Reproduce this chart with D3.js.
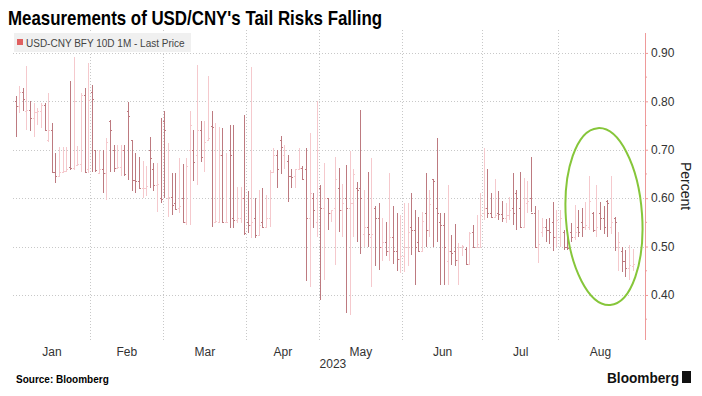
<!DOCTYPE html>
<html>
<head>
<meta charset="utf-8">
<script src="https://cdn.jsdelivr.net/npm/d3@7"></script>
<style>
  body { margin: 0; background: #fff; }
  text { font-family: "Liberation Sans", Arial, sans-serif; }
</style>
</head>
<body>
<div id="chart"></div>
<script>
// daily bars USD-CNY BFY 10D 1M, Jan 3 - Aug 29 2023 (weekdays)
const openJan = [.80,.79,.82,.78,.783,.766,.777,.78,.793,.72,.74,.655,.645,.655,.657,.665,.662,.668,.67,.814,.66];
const highJan = [.81,.831,.828,.872,.80,.797,.786,.797,.797,.817,.755,.693,.706,.706,.706,.841,.892,.707,.817,.828,.879];
const lowJan  = [.726,.776,.78,.741,.738,.726,.752,.745,.741,.717,.652,.631,.645,.655,.657,.659,.659,.667,.655,.655,.652];
const closeJan = [.79,.82,.805,.783,.766,.777,.78,.793,.741,.74,.655,.645,.655,.657,.66,.662,.80,.67,.814,.655,.803];

const openFeb = [.82,.70,.652,.66,.652,.76,.70,.662,.665,.70,.78,.72,.638,.635,.62,.62,.70,.66,.628,.60];
const highFeb = [.834,.70,.70,.70,.724,.762,.71,.71,.71,.71,.798,.72,.693,.686,.676,.666,.726,.672,.672,.766];
const lowFeb  = [.655,.655,.652,.61,.597,.655,.655,.662,.645,.645,.638,.614,.61,.62,.60,.605,.62,.615,.572,.59];
const closeFeb = [.805,.659,.66,.652,.717,.741,.662,.665,.70,.65,.77,.638,.635,.62,.62,.625,.683,.628,.63,.598];

const openMar = [.76,.60,.602,.59,.58,.60,.55,.70,.70,.69,.74,.70,.72,.75,.55,.55,.69,.55,.70,.56,.555,.56,.60];
const highMar = [.779,.714,.652,.652,.683,.671,.683,.779,.741,.876,.759,.759,.852,.779,.756,.748,.745,.693,.752,.752,.624,.624,.772];
const lowMar  = [.60,.562,.565,.575,.57,.55,.545,.545,.636,.628,.675,.655,.72,.541,.55,.55,.548,.55,.538,.538,.548,.548,.524];
const closeMar = [.741,.602,.586,.578,.583,.55,.667,.752,.675,.741,.684,.717,.725,.748,.552,.69,.55,.551,.69,.555,.56,.60,.528];

const openApr = [.55,.545,.56,.524,.55,.541,.56,.655,.69,.72,.69,.676,.645,.645,.66,.663,.66,.56,.60,.55];
const highApr = [.614,.87,.60,.617,.62,.607,.659,.703,.70,.728,.71,.69,.66,.66,.703,.666,.703,.734,.61,.80];
const lowApr  = [.528,.517,.517,.524,.538,.541,.541,.655,.621,.65,.66,.593,.62,.62,.66,.64,.428,.417,.538,.52];
const closeApr = [.545,.55,.524,.545,.541,.558,.655,.69,.66,.706,.70,.645,.643,.66,.663,.64,.56,.61,.575,.70];

const openMay = [.62,.58,.60,.57,.58,.62,.575,.60,.58,.59,.62,.62,.525,.54,.52,.58,.56,.50,.51,.49,.52,.49,.475];
const highMay = [.627,.672,.60,.575,.686,.662,.63,.669,.697,.66,.634,.783,.617,.655,.683,.583,.59,.56,.55,.652,.583,.57,.565];
const lowMay  = [.39,.431,.535,.55,.462,.53,.52,.363,.359,.52,.51,.485,.50,.50,.417,.46,.452,.47,.48,.47,.465,.45,.445];
const closeMay = [.58,.60,.57,.575,.64,.575,.59,.58,.59,.65,.617,.60,.54,.525,.525,.56,.50,.51,.49,.52,.49,.475,.48];

const openJun = [.48,.50,.54,.535,.51,.49,.57,.535,.64,.58,.55,.545,.47,.49,.49,.473,.50,.496,.465,.53,.50,.50];
const highJun = [.59,.59,.61,.576,.562,.572,.652,.617,.64,.724,.57,.57,.628,.524,.546,.508,.503,.50,.531,.545,.566,.61];
const lowJun  = [.448,.46,.483,.42,.49,.49,.50,.52,.50,.51,.42,.42,.42,.461,.459,.42,.48,.465,.465,.50,.50,.50];
const closeJun = [.50,.53,.535,.50,.49,.553,.535,.588,.636,.57,.545,.50,.49,.487,.473,.50,.502,.465,.529,.50,.505,.565];

const openJul = [.57,.58,.57,.562,.57,.567,.56,.565,.58,.61,.58,.54,.59,.60,.57,.50,.53,.54,.535,.55,.52];
const highJul = [.703,.66,.61,.64,.614,.595,.59,.603,.652,.617,.655,.641,.636,.686,.583,.576,.559,.556,.56,.593,.575];
const lowJul  = [.555,.559,.558,.56,.555,.55,.548,.555,.545,.535,.538,.54,.57,.572,.497,.466,.52,.51,.505,.49,.50];
const closeJul = [.58,.57,.562,.565,.567,.56,.565,.575,.57,.60,.54,.60,.595,.57,.50,.505,.54,.535,.53,.52,.555];

const openAug = [.52,.53,.50,.53,.52,.54,.55,.54,.54,.57,.535,.57,.56,.595,.54,.56,.50,.49,.47,.455,.46];
const highAug = [.576,.534,.53,.548,.586,.576,.58,.593,.645,.572,.628,.593,.583,.596,.645,.562,.53,.50,.493,.503,.495];
const lowAug  = [.50,.493,.493,.51,.514,.52,.52,.535,.535,.53,.52,.535,.525,.52,.525,.49,.45,.448,.438,.431,.45];
const closeAug = [.56,.50,.498,.52,.53,.53,.54,.545,.594,.535,.54,.56,.54,.59,.55,.55,.51,.47,.455,.462,.465];

const months = ["Jan", "Feb", "Mar", "Apr", "May", "Jun", "Jul", "Aug"];
const yTicks = [0.40, 0.50, 0.60, 0.70, 0.80, 0.90];
const yMinorTicks = [0.35, 0.45, 0.55, 0.65, 0.75, 0.85];

const opens = [].concat(openJan, openFeb, openMar, openApr, openMay, openJun, openJul, openAug);
const highs = [].concat(highJan, highFeb, highMar, highApr, highMay, highJun, highJul, highAug);
const lows = [].concat(lowJan, lowFeb, lowMar, lowApr, lowMay, lowJun, lowJul, lowAug);
const closes = [].concat(closeJan, closeFeb, closeMar, closeApr, closeMay, closeJun, closeJul, closeAug);

// weekday axis: index counted from Mon Jan 2 2023
const start = new Date(2023, 0, 2);
const allDays = d3.timeDay.range(start, new Date(2023, 8, 9)).filter(d => d.getDay() % 6 !== 0);
const dayIndex = new Map(allDays.map((d, i) => [+d, i]));
const tradeDays = allDays.filter(d => d >= new Date(2023, 0, 3) && d <= new Date(2023, 7, 29));

const data = tradeDays.map((d, i) => ({
  i: dayIndex.get(+d), o: opens[i], h: highs[i], l: lows[i], c: closes[i]
}));

const width = 702, height = 396;
const margin = {top: 33, right: 57, bottom: 56, left: 13};

const svg = d3.select("#chart").append("svg")
  .attr("width", width)
  .attr("height", height);

const x = d3.scaleLinear()
  .domain([0.3, 174.4])
  .range([margin.left, width - margin.right]);

const y = d3.scaleLinear()
  .domain([0.307, 0.937])
  .range([height - margin.bottom, margin.top + 2]);

// month boundaries
const monthStarts = d3.range(0, 9).map(m => {
  let d = new Date(2023, m, 1);
  while (d.getDay() % 6 === 0) d = d3.timeDay.offset(d, 1);
  return dayIndex.get(+d) - 0.5;
});

// grid
svg.append("g")
  .attr("stroke", "#c8c8c8")
  .attr("stroke-dasharray", "1,2")
  .selectAll("line")
  .data(yTicks)
  .join("line")
  .attr("x1", margin.left)
  .attr("x2", width - margin.right)
  .attr("y1", d => Math.round(y(d)) + 0.5)
  .attr("y2", d => Math.round(y(d)) + 0.5);

svg.append("g")
  .attr("stroke", "#c8c8c8")
  .attr("stroke-dasharray", "1,2")
  .selectAll("line")
  .data(monthStarts.slice(1, 8))
  .join("line")
  .attr("x1", d => Math.round(x(d)) + 0.5)
  .attr("x2", d => Math.round(x(d)) + 0.5)
  .attr("y1", margin.top - 3)
  .attr("y2", height - margin.bottom);

// legend
const legend = svg.append("g");
legend.append("rect")
  .attr("x", 14).attr("y", 33)
  .attr("width", 177).attr("height", 19)
  .attr("fill", "#f0f0f0");
legend.append("rect")
  .attr("x", 17).attr("y", 39)
  .attr("width", 6).attr("height", 6)
  .attr("fill", "#e06060");
legend.append("text")
  .attr("x", 26).attr("y", 46.5)
  .attr("font-size", 10)
  .attr("fill", "#444")
  .text("USD-CNY BFY 10D 1M - Last Price");

// OHLC bars
const bars = svg.append("g")
  .selectAll("g")
  .data(data)
  .join("g")
  .attr("stroke", d => d.c < d.o ? "#bd7a80" : "#f5c9cd")
  .attr("shape-rendering", "crispEdges");

bars.append("line")
  .attr("x1", d => Math.round(x(d.i)) + 0.5)
  .attr("x2", d => Math.round(x(d.i)) + 0.5)
  .attr("y1", d => y(d.h))
  .attr("y2", d => y(d.l));

bars.append("line")
  .attr("x1", d => Math.round(x(d.i)) - 1)
  .attr("x2", d => Math.round(x(d.i)) + 1)
  .attr("y1", d => Math.round(y(d.o)) + 0.5)
  .attr("y2", d => Math.round(y(d.o)) + 0.5);

bars.append("line")
  .attr("x1", d => Math.round(x(d.i)))
  .attr("x2", d => Math.round(x(d.i)) + 2)
  .attr("y1", d => Math.round(y(d.c)) + 0.5)
  .attr("y2", d => Math.round(y(d.c)) + 0.5);

// right axis
const yAxis = g => g
  .attr("transform", `translate(${width - margin.right},0)`)
  .call(d3.axisRight(y).tickValues(yTicks).tickFormat(d3.format(".2f")).tickSize(3).tickPadding(3))
  .call(g => g.select(".domain").attr("stroke", "#ee9a9a").attr("d", `M0.5,${margin.top}V${height - margin.bottom}`))
  .call(g => g.selectAll(".tick line").attr("stroke", "#ee9a9a"))
  .call(g => g.selectAll(".tick text").attr("fill", "#333").attr("font-size", 12).attr("font-family", "Liberation Sans, Arial, sans-serif"));

svg.append("g").call(yAxis);

svg.append("g")
  .attr("stroke", "#ee9a9a")
  .selectAll("line")
  .data(yMinorTicks)
  .join("line")
  .attr("x1", width - margin.right)
  .attr("x2", width - margin.right + 2)
  .attr("y1", d => y(d))
  .attr("y2", d => y(d));

svg.append("text")
  .attr("transform", `translate(681,${y(0.625)}) rotate(90)`)
  .attr("text-anchor", "middle")
  .attr("font-size", 14)
  .attr("fill", "#222")
  .text("Percent");

// month labels at centre of each month's visible span
const monthCenters = months.map((m, k) => {
  const a = Math.max(monthStarts[k], x.domain()[0]);
  const b = Math.min(monthStarts[k + 1], x.domain()[1]);
  return (a + b) / 2;
});

const xAxis = g => g
  .attr("transform", `translate(0,${height - margin.bottom + 2})`)
  .call(d3.axisBottom(x).tickValues(monthCenters).tickFormat((d, k) => months[k]).tickSize(0).tickPadding(5))
  .call(g => g.select(".domain").remove())
  .call(g => g.selectAll(".tick text").attr("fill", "#333").attr("font-size", 12).attr("font-family", "Liberation Sans, Arial, sans-serif"));

svg.append("g").call(xAxis);

svg.append("text")
  .attr("x", x((monthStarts[0] + monthStarts[8]) / 2) + 7)
  .attr("y", 368)
  .attr("text-anchor", "middle")
  .attr("font-size", 12)
  .attr("fill", "#333")
  .text("2023");

// annotation ellipse
const ex = x(163.1), ey = y(0.562);
svg.append("ellipse")
  .attr("transform", `translate(${ex},${ey}) rotate(-4)`)
  .attr("rx", x(163.1 + 10.5) - ex)
  .attr("ry", ey - y(0.562 + 0.183))
  .attr("fill", "none")
  .attr("stroke", "#86c63a")
  .attr("stroke-width", 2);

// title, source, logo
svg.append("text")
  .attr("x", 8).attr("y", 25)
  .attr("font-size", 21)
  .attr("font-weight", "bold")
  .attr("textLength", 374)
  .attr("lengthAdjust", "spacingAndGlyphs")
  .attr("fill", "#000")
  .text("Measurements of USD/CNY's Tail Risks Falling");

svg.append("text")
  .attr("x", 16).attr("y", 383)
  .attr("font-size", 10)
  .attr("font-weight", "bold")
  .attr("fill", "#000")
  .text("Source: Bloomberg");

svg.append("text")
  .attr("x", 679).attr("y", 383)
  .attr("text-anchor", "end")
  .attr("font-size", 14)
  .attr("font-weight", "bold")
  .attr("textLength", 72)
  .attr("lengthAdjust", "spacingAndGlyphs")
  .attr("fill", "#111")
  .text("Bloomberg");

svg.append("rect")
  .attr("x", 682).attr("y", 371)
  .attr("width", 9).attr("height", 12)
  .attr("fill", "#111");
</script>
</body>
</html>
